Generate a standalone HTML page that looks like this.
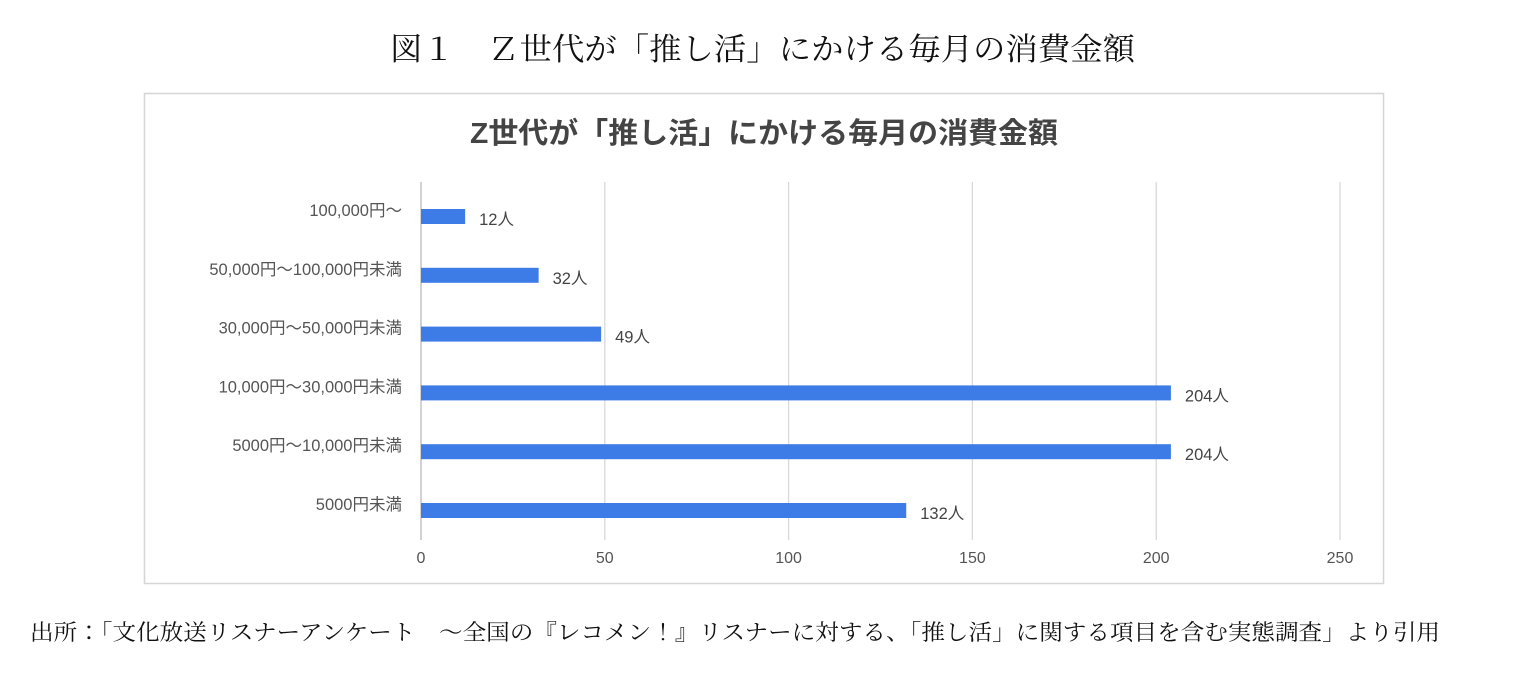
<!DOCTYPE html>
<html><head><meta charset="utf-8">
<style>
html,body{margin:0;padding:0;background:#fff;width:1523px;height:677px;overflow:hidden}
svg{display:block}
</style></head>
<body>
<svg id="chart" width="1523" height="677" xmlns="http://www.w3.org/2000/svg">
<text x="390" y="60" textLength="745" lengthAdjust="spacingAndGlyphs" font-family="'Liberation Serif','Noto Serif CJK SC',serif" font-size="31" fill="#111">図１　Ｚ世代が「推し活」にかける毎月の消費金額</text>
<rect x="144.5" y="93.5" width="1239" height="490" fill="#fff" stroke="#d6d6d6" stroke-width="1.5"/>
<text x="470" y="143" textLength="588" lengthAdjust="spacingAndGlyphs" font-family="'Liberation Sans','Noto Sans CJK JP',sans-serif" font-size="29" font-weight="bold" fill="#444">Z世代が「推し活」にかける毎月の消費金額</text>
<g id="grid"></g>
<g id="bars"></g>
<text x="30" y="640" textLength="1410" lengthAdjust="spacingAndGlyphs" font-family="'Liberation Serif','Noto Serif CJK JP',serif" font-size="22" fill="#111">出所：「文化放送リスナーアンケート　～全国の『レコメン！』リスナーに対する、「推し活」に関する項目を含む実態調査」より引用</text>
</svg>
<script>
const categories = ["100,000円～","50,000円～100,000円未満","30,000円～50,000円未満","10,000円～30,000円未満","5000円～10,000円未満","5000円未満"];
const values = [12,32,49,204,204,132];
const valueLabels = ["12人","32人","49人","204人","204人","132人"];
const ticks = [0,50,100,150,200,250];

const NS="http://www.w3.org/2000/svg";
const x0=421, x1=1340, xmax=250, yTop=182, yBottom=540, rowTop=188, rowStep=58.8;
const xs=v=>x0+(v/xmax)*(x1-x0);
const yc=i=>rowTop+rowStep*i+29;
const gridG=document.getElementById('grid'), barsG=document.getElementById('bars');
const font="'Liberation Sans','Noto Sans CJK JP',sans-serif";
ticks.forEach(t=>{
  const l=document.createElementNS(NS,'line');
  l.setAttribute('x1',xs(t));l.setAttribute('x2',xs(t));l.setAttribute('y1',yTop);l.setAttribute('y2',yBottom);
  l.setAttribute('stroke',t===0?'#bbb':'#d9d9d9');l.setAttribute('stroke-width','1.3');
  
  
  gridG.appendChild(l);
  const tx=document.createElementNS(NS,'text');
  tx.setAttribute('x',xs(t));tx.setAttribute('y',563);tx.setAttribute('text-anchor','middle');
  tx.setAttribute('font-family',font);tx.setAttribute('font-size','16');tx.setAttribute('fill','#555');
  tx.textContent=t;
  
  
  gridG.appendChild(tx);
});
categories.forEach((c,i)=>{
  const y=yc(i);
  const lab=document.createElementNS(NS,'text');
  lab.setAttribute('x',402);lab.setAttribute('y',y-1);lab.setAttribute('text-anchor','end');
  lab.setAttribute('font-family',font);lab.setAttribute('font-size','16.5');lab.setAttribute('fill','#555');
  lab.textContent=c;
  
  
  barsG.appendChild(lab);
  const r=document.createElementNS(NS,'rect');
  r.setAttribute('x',x0);r.setAttribute('y',y-8);r.setAttribute('width',xs(values[i])-x0);r.setAttribute('height',15);
  r.setAttribute('fill','#3d7ce6');
  
  
  barsG.appendChild(r);
  const v=document.createElementNS(NS,'text');
  v.setAttribute('x',xs(values[i])+14);v.setAttribute('y',y+8);
  v.setAttribute('font-family',font);v.setAttribute('font-size','16.5');v.setAttribute('fill','#444');
  v.textContent=valueLabels[i];
  
  
  barsG.appendChild(v);
});
</script>
</body></html>
